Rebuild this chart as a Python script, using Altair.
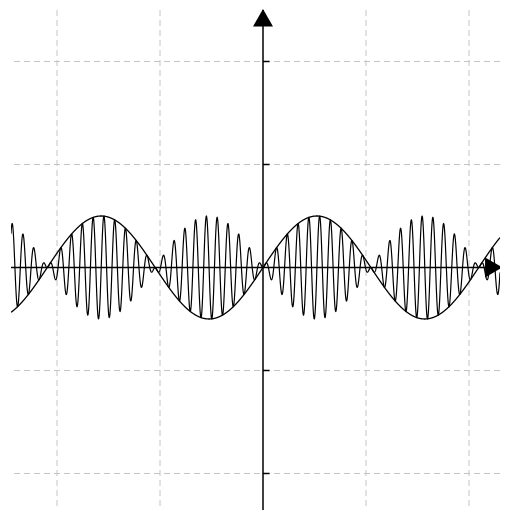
import numpy as np
import pandas as pd
import altair as alt

# ---- chart values -------------------------------------------------------
X_DOMAIN = [-7.34, 6.903]          # visible x window (grid spacing 3)
Y_DOMAIN = [-4.709, 5.0]           # visible y window (grid spacing 2)
GRID_X = [-6, -3, 3, 6]
GRID_Y = [-4, -2, 2, 4]
ENVELOPE_AMPLITUDE = [1.0]         # slow curve: A*sin(x)
ENVELOPE_FREQ = [1.0]
CARRIER_FREQ = [20.0]              # fast curve: A*sin(x)*sin(20x)
ARROW_UP = [0.0, 4.85]             # (x, y) of up arrowhead centre
ARROW_RIGHT = [6.72, 0.0]          # (x, y) of right arrowhead centre
TICK_LEN = [0.19]                  # y-axis tick length in x units

# ---- build tables -------------------------------------------------------
xs = np.linspace(X_DOMAIN[0], X_DOMAIN[1], 4000)
env = ENVELOPE_AMPLITUDE[0] * np.sin(ENVELOPE_FREQ[0] * xs)
fast = env * np.sin(CARRIER_FREQ[0] * xs)
curves = pd.DataFrame({"x": xs, "env": env, "fast": fast})

gx = pd.DataFrame({"gx": GRID_X})
gy = pd.DataFrame({"gy": GRID_Y})
ticks = pd.DataFrame({"y": GRID_Y, "x": [0.0] * 4, "x2": [TICK_LEN[0]] * 4})
axis0 = pd.DataFrame({"v": [0.0]})
arrows_up = pd.DataFrame({"x": [ARROW_UP[0]], "y": [ARROW_UP[1]]})
arrows_right = pd.DataFrame({"x": [ARROW_RIGHT[0]], "y": [ARROW_RIGHT[1]]})

xs_ = alt.Scale(domain=X_DOMAIN, nice=False, zero=False)
ys_ = alt.Scale(domain=Y_DOMAIN, nice=False, zero=False)

grid_v = alt.Chart(gx).mark_rule(color="#c4c4c4", strokeWidth=1, strokeDash=[6, 4]).encode(
    x=alt.X("gx:Q", scale=xs_, axis=None))
grid_h = alt.Chart(gy).mark_rule(color="#c4c4c4", strokeWidth=1, strokeDash=[6, 4]).encode(
    y=alt.Y("gy:Q", scale=ys_, axis=None))

axis_v = alt.Chart(axis0).mark_rule(color="black", strokeWidth=1.5).encode(
    x=alt.X("v:Q", scale=xs_, axis=None))
axis_h = alt.Chart(axis0).mark_rule(color="black", strokeWidth=1.5).encode(
    y=alt.Y("v:Q", scale=ys_, axis=None))

tick_marks = alt.Chart(ticks).mark_rule(color="black", strokeWidth=1.5).encode(
    x=alt.X("x:Q", scale=xs_, axis=None), x2="x2:Q",
    y=alt.Y("y:Q", scale=ys_, axis=None))

fast_line = alt.Chart(curves).mark_line(color="black", strokeWidth=1.2, clip=True).encode(
    x=alt.X("x:Q", scale=xs_, axis=None),
    y=alt.Y("fast:Q", scale=ys_, axis=None))
env_line = alt.Chart(curves).mark_line(color="black", strokeWidth=1.3, clip=True).encode(
    x=alt.X("x:Q", scale=xs_, axis=None),
    y=alt.Y("env:Q", scale=ys_, axis=None))

arrow_u = alt.Chart(arrows_up).mark_point(shape="triangle-up", size=400, filled=True,
                                          color="black", opacity=1).encode(
    x=alt.X("x:Q", scale=xs_, axis=None), y=alt.Y("y:Q", scale=ys_, axis=None))
arrow_r = alt.Chart(arrows_right).mark_point(shape="triangle-right", size=400, filled=True,
                                             color="black", opacity=1).encode(
    x=alt.X("x:Q", scale=xs_, axis=None), y=alt.Y("y:Q", scale=ys_, axis=None))

chart = alt.layer(
    grid_v, grid_h, axis_v, axis_h, tick_marks, fast_line, env_line, arrow_u, arrow_r
).properties(
    width=489, height=500,
    padding={"left": 3, "top": 2, "right": 0, "bottom": 0},
    autosize="none",
    background="white",
).configure_view(stroke=None)

chart.save("out.html", embed_options={"renderer": "svg", "actions": False})
